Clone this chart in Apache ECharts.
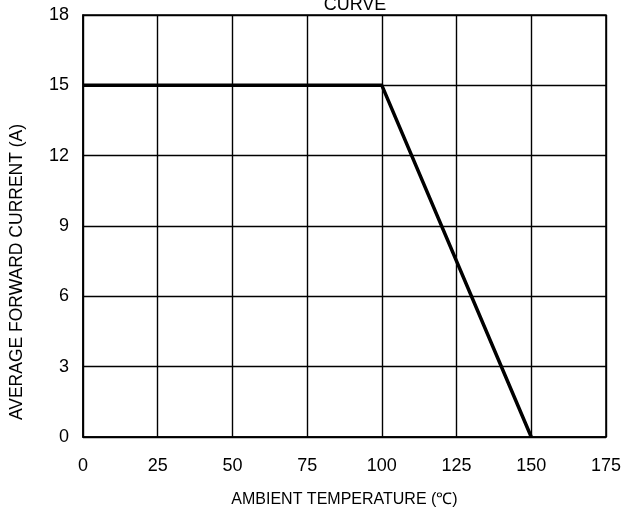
<!DOCTYPE html>
<html><head><meta charset="utf-8">
<script src="https://cdn.jsdelivr.net/npm/echarts@6/dist/echarts.min.js"></script>
<style>html,body{margin:0;padding:0;background:#fff}#c{width:624px;height:514px}</style>
</head><body><div id="c"></div>
<script>
const temps = [0, 100, 150];
const currents = [15, 15, 0];
const xTicks = [0, 25, 50, 75, 100, 125, 150, 175];
const yTicks = [0, 3, 6, 9, 12, 15, 18];

const chart = echarts.init(document.getElementById('c'), null, {renderer: 'canvas'});
chart.setOption({
  animation: false,
  backgroundColor: '#fff',
  title: {text: 'CURVE', left: 350, textAlign: 'center', top: -9,
    textStyle: {fontFamily: 'Liberation Sans', fontSize: 18, fontWeight: 'normal', color: '#000'}},
  grid: {left: 81, right: 18, top: 15, bottom: 77, show: true, borderColor: '#000', borderWidth: 1.5},
  xAxis: {type: 'value', min: 0, max: 175, interval: 25,
    name: 'AMBIENT TEMPERATURE (℃)', nameLocation: 'middle', nameGap: 55,
    nameTextStyle: {fontFamily: 'Liberation Sans', fontSize: 16, color: '#000'},
    axisLine: {show: true, lineStyle: {color: '#000', width: 1.5}},
    axisTick: {show: false},
    axisLabel: {fontFamily: 'Liberation Sans', fontSize: 18, color: '#000', margin: 20},
    splitLine: {show: true, lineStyle: {color: '#000', width: 1.4}}},
  yAxis: {type: 'value', min: 0, max: 18, interval: 3,
    name: 'AVERAGE FORWARD CURRENT (A)', nameLocation: 'middle', nameGap: 57,
    nameTextStyle: {fontFamily: 'Liberation Sans', fontSize: 17.5, color: '#000', padding: [0, 92, 0, 0]},
    axisLine: {show: true, lineStyle: {color: '#000', width: 1.5}},
    axisTick: {show: false},
    axisLabel: {fontFamily: 'Liberation Sans', fontSize: 18, color: '#000', margin: 14},
    splitLine: {show: true, lineStyle: {color: '#000', width: 1.4}}},
  series: [{type: 'line', data: temps.map((t, i) => [t, currents[i]]),
    showSymbol: false, lineStyle: {color: '#000', width: 3.5}}]
});
</script></body></html>
